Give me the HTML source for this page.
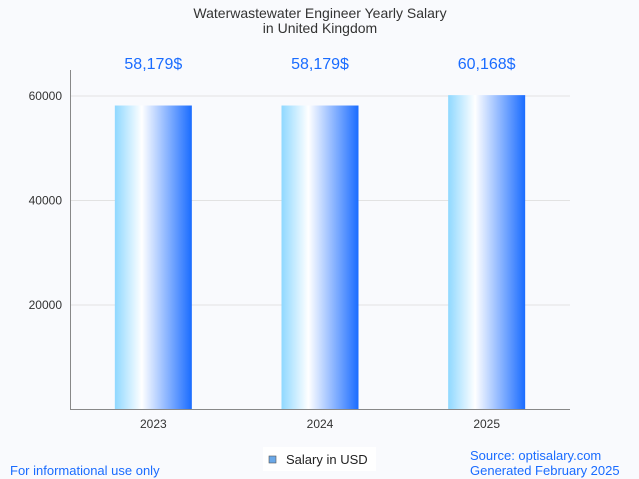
<!DOCTYPE html>
<html><head><meta charset="utf-8"><style>
body{margin:0;background:#f9fafd;font-family:"Liberation Sans",sans-serif;}
svg{display:block}
</style></head><body>
<svg width="639" height="479">
<defs><linearGradient id="g" x1="0" x2="1" y1="0" y2="0">
<stop offset="0" stop-color="#8fd8ff"/><stop offset="0.35" stop-color="#ffffff"/><stop offset="1" stop-color="#1a6cff"/>
</linearGradient></defs>
<rect width="639" height="479" fill="#f9fafd"/>
<text x="320" y="18" text-anchor="middle" font-size="14" fill="#333">Waterwastewater Engineer Yearly Salary</text>
<text x="320" y="33" text-anchor="middle" font-size="14" fill="#333">in United Kingdom</text>
<g id="grid"></g><g id="bars"></g>
<line x1="70.5" y1="70" x2="70.5" y2="409" stroke="#888"/>
<line x1="70" y1="409.5" x2="570" y2="409.5" stroke="#888"/>
<rect x="263" y="447" width="113" height="24" fill="#fff"/>
<rect x="269" y="456" width="7" height="7" fill="#6aa8e8" stroke="#555" stroke-width="0.6"/>
<text x="286" y="464" font-size="13" fill="#222">Salary in USD</text>
<text x="10" y="475" font-size="13" fill="#1a6cff">For informational use only</text>
<text x="470" y="460" font-size="13" fill="#1a6cff">Source: optisalary.com</text>
<text x="470" y="475" font-size="13" fill="#1a6cff">Generated February 2025</text>
</svg>
<script>
const categories=["2023","2024","2025"];
const values=[58179,58179,60168];
const valueLabels=["58,179$","58,179$","60,168$"];
const ticks=[20000,40000,60000];
const ns="http://www.w3.org/2000/svg";
const x0=70,x1=570,yb=409.5,pxPer=104.5/20000;
const y=v=>yb-v*pxPer;
const bw=(x1-x0)/categories.length;
const xc=i=>x0+bw*(i+0.5);
function mk(t,a,p){const e=document.createElementNS(ns,t);for(const k in a)e.setAttribute(k,a[k]);p.appendChild(e);return e;}
const G=document.getElementById('grid'),B=document.getElementById('bars');
ticks.forEach(t=>{
 const l=mk('line',{x1:x0,x2:x1,y1:y(t),y2:y(t),stroke:'#e2e2e2'},G);
 
 
 const tx=mk('text',{x:62,y:y(t)+4,'text-anchor':'end','font-size':12,fill:'#333'},G);tx.textContent=t;
 
 
});
categories.forEach((c,i)=>{
 const r=mk('rect',{x:xc(i)-38.5,y:y(values[i]),width:77,height:yb-y(values[i]),fill:'url(#g)'},B);
 
 
 const v=mk('text',{x:xc(i),y:69,'text-anchor':'middle','font-size':16,fill:'#1a6cff'},B);v.textContent=valueLabels[i];
 
 
 const t=mk('text',{x:xc(i),y:428,'text-anchor':'middle','font-size':12,fill:'#333'},B);t.textContent=c;
 
 
});
</script>
</body></html>
